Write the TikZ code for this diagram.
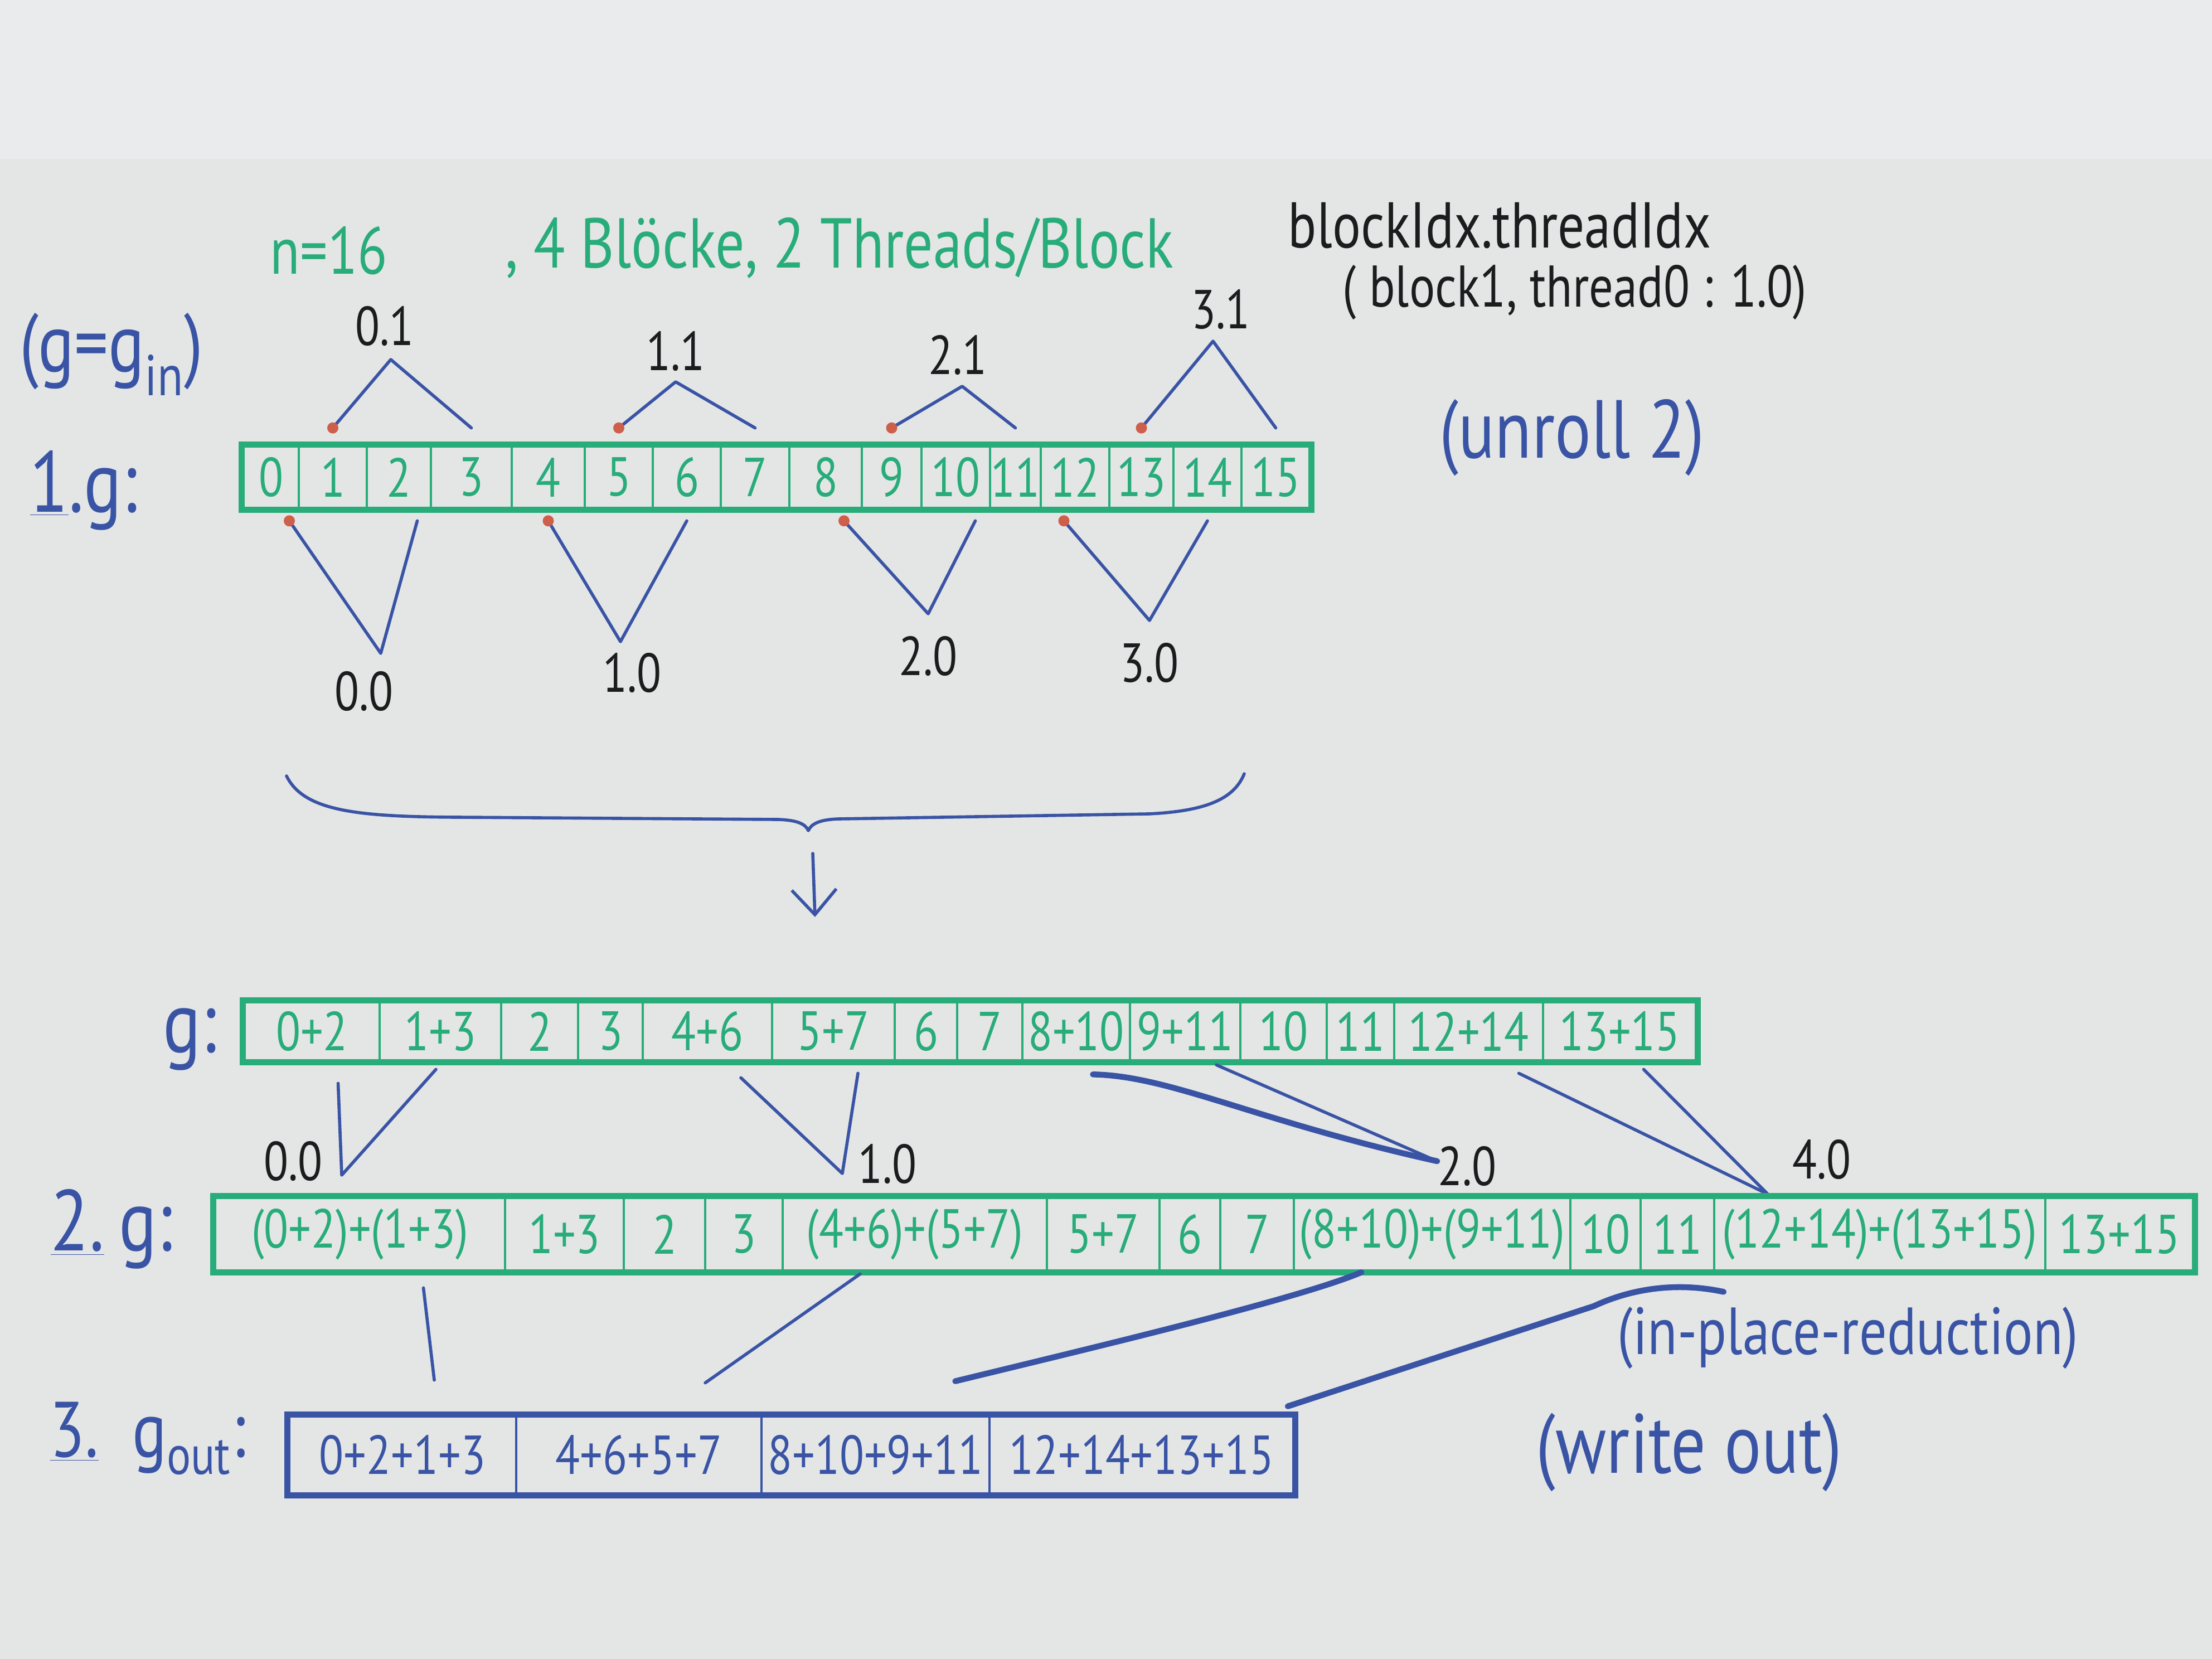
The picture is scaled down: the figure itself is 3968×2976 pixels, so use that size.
\documentclass[tikz,border=0pt]{standalone}
\usepackage{fontspec}
\setmainfont{PT Sans}[FakeStretch=0.82]
\usetikzlibrary{arrows.meta,calc}
\definecolor{board}{RGB}{228,230,230}
\definecolor{wall}{RGB}{234,235,236}
\definecolor{mgreen}{RGB}{40,172,122}
\definecolor{mblue}{RGB}{58,84,165}
\definecolor{mblack}{RGB}{28,28,30}
\definecolor{mred}{RGB}{205,95,75}
\tikzset{
  hw/.style={inner sep=0pt, font=\fontsize{#1}{#1}\selectfont},
  cellA/.style={draw=mgreen, line width=1.3pt, inner sep=0pt, minimum height=1.12cm, text=mgreen, font=\fontsize{28}{28}\selectfont},
  cellB/.style={draw=mgreen, line width=1.3pt, inner sep=0pt, minimum height=1.06cm, text=mgreen, font=\fontsize{28}{28}\selectfont},
  cellC/.style={draw=mgreen, line width=1.3pt, inner sep=0pt, minimum height=1.32cm, text=mgreen, font=\fontsize{28}{28}\selectfont},
  cellD/.style={draw=mblue, line width=1.3pt, inner sep=0pt, minimum height=1.40cm, text=mblue, font=\fontsize{28}{28}\selectfont},
  frameG/.style={draw=mgreen, line width=3.2pt},
  frameB/.style={draw=mblue, line width=3.2pt},
  conn/.style={draw=mblue, line width=1.6pt, line cap=round, line join=round},
  connthick/.style={conn, line width=3pt},
  lbl/.style={hw=28, text=mblack},
  reddot/.style={fill=mred},
}
\begin{document}
\begin{tikzpicture}[x=0.01cm, y=-0.01cm]
\useasboundingbox (0,0) rectangle (3968,2976);
\fill[board] (0,0) rectangle (3968,2976);
\fill[wall] (0,0) rectangle (3968,285);

% header
\node[hw=34, text=mgreen] (n16) at (590,450) {n=16};
\node[hw=36, text=mgreen] (blk) at (1506,445) {, 4 Blöcke, 2 Threads/Block};
\node[hw=33, text=mblack] (bidx) at (2690,405) {blockIdx.threadIdx};
\node[hw=30, text=mblack] (ex) at (2825,525) {( block1, thread0 : 1.0)};
\node[hw=42, text=mblue] (unr) at (2820,785) {(unroll 2)};
\node[hw=42, text=mblue] (gin) at (200,635) {(g=g\textsubscript{in})};
\node[hw=44, text=mblue] (l1) at (150,880) {\underline{1}.g:};

% array 1
\foreach \xa/\xb/\tx [count=\i from 0] in {436/536/0, 536/658/1, 658/773/2, 773/918/3, 918/1049/4, 1049/1171/5, 1171/1293/6, 1293/1416/7, 1416/1546/8, 1546/1653/9, 1653/1776/10, 1776/1867/11, 1867/1990/12, 1990/2105/13, 2105/2227/14, 2227/2350/15}
  \node[cellA, minimum width={(\xb-\xa)*0.01cm}] (a\i) at ({(\xa+\xb)/2},856) {\tx};
\draw[frameG] (a0.north west) rectangle (a15.south east);

% thread labels above
\node[lbl] (t01) at (690,585) {0.1};
\node[lbl] (t11) at (1212,630) {1.1};
\node[lbl] (t21) at (1718,637) {2.1};
\node[lbl] (t31) at (2190,555) {3.1};
\coordinate (p01) at (701,645);
\coordinate (p11) at (1212,685);
\coordinate (p21) at (1726,693);
\coordinate (p31) at (2176,612);
\foreach \p/\l/\r in {p01/1/3, p11/5/7, p21/9/11, p31/13/15}{
  \draw[conn] ([yshift=0.3cm]a\l.north) -- (\p) -- ([yshift=0.3cm]a\r.north);
  \fill[reddot] ([yshift=0.3cm]a\l.north) circle (0.1cm);
}

% thread labels below
\node[lbl] (t00) at (653,1240) {0.0};
\node[lbl] (t10) at (1134,1207) {1.0};
\node[lbl] (t20) at (1665,1177) {2.0};
\node[lbl] (t30) at (2062,1189) {3.0};
\coordinate (p00) at (683,1172);
\coordinate (p10) at (1113,1151);
\coordinate (p20) at (1665,1101);
\coordinate (p30) at (2062,1113);
\foreach \p/\l/\r/\dl/\dr in {p00/0/2/0.33/0.33, p10/4/6/0/0, p20/8/10/0.33/0.35, p30/12/14/-0.2/0}{
  \draw[conn] ([xshift=\dl cm, yshift=-0.2cm]a\l.south) -- (\p) -- ([xshift=\dr cm, yshift=-0.2cm]a\r.south);
  \fill[reddot] ([xshift=\dl cm, yshift=-0.2cm]a\l.south) circle (0.1cm);
}

% brace and arrow
\coordinate (brL) at (514,1392);
\coordinate (brR) at (2232,1388);
\coordinate (brT) at (1450,1490);
\draw[conn] (brL) .. controls (545,1455) and (640,1465) .. (820,1466) -- (1395,1470) .. controls (1430,1471) and (1445,1478) .. (brT) .. controls (1455,1478) and (1470,1470) .. (1505,1469) -- (2060,1460) .. controls (2170,1455) and (2215,1430) .. (brR);
\coordinate (arT) at (1458,1531);
\coordinate (arB) at (1462,1645);
\draw[conn, -{Straight Barb[length=0.45cm, width=0.8cm]}] (arT) -- (arB);

% array 2
\node[hw=44, text=mblue] (l2) at (340,1865) {g:};
\foreach \xa/\xb/\tx [count=\i from 0] in {438/681/0+2, 681/899/1+3, 899/1037/2, 1037/1153/3, 1153/1385/4+6, 1385/1605/5+7, 1605/1717/6, 1717/1834/7, 1834/2027/8+10, 2027/2225/9+11, 2225/2380/10, 2380/2501/11, 2501/2768/12+14, 2768/3043/13+15}
  \node[cellB, minimum width={(\xb-\xa)*0.01cm}] (b\i) at ({(\xa+\xb)/2},1850) {\tx};
\draw[frameG] (b0.north west) rectangle (b13.south east);

% connectors array 2 -> row 2
\node[lbl] (s00) at (526,2083) {0.0};
\node[lbl] (s10) at (1592,2088) {1.0};
\node[lbl] (s20) at (2632,2092) {2.0};
\node[lbl] (s40) at (3268,2080) {4.0};
\coordinate (q00) at (613,2108);
\coordinate (q10) at (1511,2105);
\coordinate (q20) at (2578,2083);
\coordinate (q40) at (3171,2142);
\draw[conn] ([xshift=0.47cm, yshift=-0.38cm]b0.south) -- (q00) -- ([xshift=-0.08cm, yshift=-0.13cm]b1.south);
\draw[conn] ([xshift=0.6cm, yshift=-0.28cm]b4.south) -- (q10) -- ([xshift=0.44cm, yshift=-0.2cm]b5.south);
\draw[connthick] ([xshift=0.3cm, yshift=-0.22cm]b8.south) .. controls (2100,1930) and (2250,2010) .. (q20);
\draw[conn] ([xshift=0.56cm, yshift=-0.05cm]b9.south) -- (q20);
\draw[conn] ([xshift=0.9cm, yshift=-0.2cm]b12.south) -- (q40) -- ([xshift=0.43cm, yshift=-0.13cm]b13.south);

% row 2
\node[hw=44, text=mblue] (l3) at (200,2205) {\underline{2.}\,g:};
\foreach \xa/\xb/\tx [count=\i from 0] in {385/906/(0+2)+(1+3), 906/1119/1+3, 1119/1265/2, 1265/1404/3, 1404/1878/(4+6)+(5+7), 1878/2080/5+7, 2080/2189/6, 2189/2321/7, 2321/2817/(8+10)+(9+11), 2817/2943/10, 2943/3075/11, 3075/3669/(12+14)+(13+15), 3669/3935/13+15}
  \node[cellC, minimum width={(\xb-\xa)*0.01cm}] (c\i) at ({(\xa+\xb)/2},2214) {\tx};
\draw[frameG] (c0.north west) rectangle (c12.south east);
\node[hw=34, text=mblue] (ipr) at (3315,2400) {(in-place-reduction)};

% row 3
\node[hw=40, text=mblue] (l4) at (265,2580) {\underline{3.}\hspace{0.6cm}g\textsubscript{out}:};
\foreach \xa/\xb/\tx [count=\i from 0] in {518/926/0+2+1+3, 926/1366/4+6+5+7, 1366/1775/8+10+9+11, 1775/2321/12+14+13+15}
  \node[cellD, minimum width={(\xb-\xa)*0.01cm}] (d\i) at ({(\xa+\xb)/2},2610) {\tx};
\draw[frameB] (d0.north west) rectangle (d3.south east);
\node[hw=43, text=mblue] (wo) at (3030,2605) {(write out)};

% connectors row 2 -> row 3
\draw[conn] ([xshift=1.14cm, yshift=-0.28cm]c0.south) -- ([xshift=0.57cm, yshift=0.62cm]d0.north);
\draw[conn] ([xshift=-0.98cm, yshift=-0.03cm]c4.south) -- ([xshift=1.19cm, yshift=0.57cm]d1.north);
\draw[connthick] ([xshift=-1.27cm, yshift=0cm]c8.south) .. controls (2330,2330) and (1950,2420) .. ([xshift=1.43cm, yshift=0.6cm]d2.north);
\draw[connthick] ([xshift=-2.8cm, yshift=-0.35cm]c11.south) .. controls (3011,2300) and (2930,2310) .. (2859,2343) -- ([xshift=2.62cm, yshift=0.15cm]d3.north);
\end{tikzpicture}
\end{document}
